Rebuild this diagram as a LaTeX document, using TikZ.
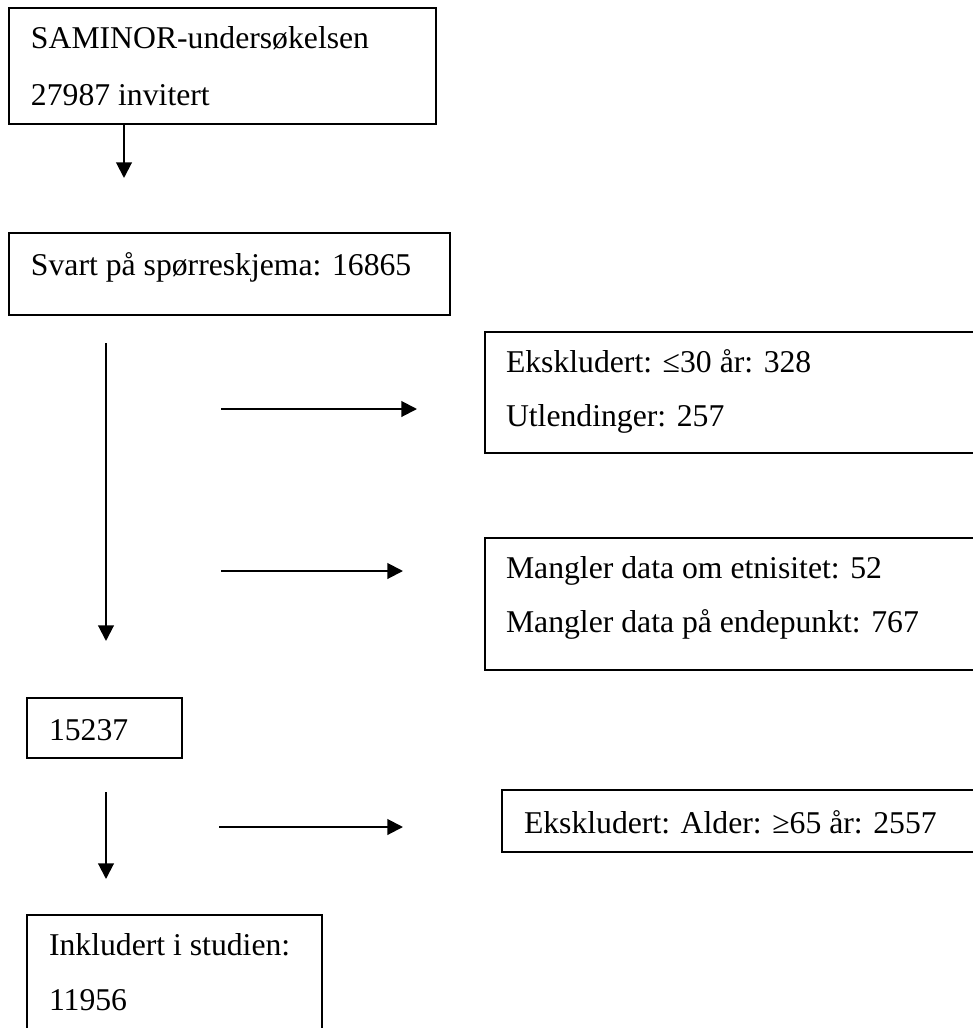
\documentclass[tikz,border=0pt]{standalone}
\usepackage{fontspec}
\setmainfont{Liberation Serif}
\usetikzlibrary{arrows.meta,fit}

\begin{document}
\begin{tikzpicture}[x=0.5pt, y=-0.5pt, line width=1pt, >={Triangle[length=7.8pt,width=7.8pt]},
    font=\fontsize{15.85}{19}\selectfont,
    boks/.style={draw, inner sep=0pt, fit={#1}},
    tekst/.style={anchor=base west, inner sep=0pt}]
                \useasboundingbox (0,0) rectangle (973,1028);
                \clip (0,0) rectangle (973,1028);
                % boxes
                \node[boks={(9,8) (436,124)}] (invitert) {};
                \node[boks={(9,233) (450,315)}] (svart) {};
                \node[boks={(485,332) (990,453)}] (eks1) {};
                \node[boks={(485,538) (990,670)}] (mangler) {};
                \node[boks={(27,698) (182,758)}] (rest) {};
                \node[boks={(502,790) (990,852)}] (eks2) {};
                \node[boks={(27,915) (322,1032)}] (inkl) {};
                % texts
                \node[tekst] (t1a) at (30,48) {SAMINOR-undersøkelsen};
                \node[tekst] (t1b) at (30,105) {27987 invitert};
                \node[tekst] (t2) at (30,275) {Svart på spørreskjema: 16865};
                \node[tekst] (t3a) at (505,372) {Ekskludert: ≤30 år: 328};
                \node[tekst] (t3b) at (505,426) {Utlendinger: 257};
                \node[tekst] (t4a) at (505,578) {Mangler data om etnisitet: 52};
                \node[tekst] (t4b) at (505,632) {Mangler data på endepunkt: 767};
                \node[tekst] (t5) at (48,740) {15237};
                \node[tekst] (t6) at (523,833) {Ekskludert: Alder: ≥65 år: 2557};
                \node[tekst] (t7a) at (48,955) {Inkludert i studien:};
                \node[tekst] (t7b) at (48,1010) {11956};
                % arrows
                \coordinate (p1) at (124,178);
                \coordinate (p2a) at (106,343);
                \coordinate (p2b) at (106,641);
                \coordinate (p3a) at (221,409);
                \coordinate (p3b) at (417,409);
                \coordinate (p4a) at (221,571);
                \coordinate (p4b) at (403,571);
                \coordinate (p5a) at (106,792);
                \coordinate (p5b) at (106,879);
                \coordinate (p6a) at (219,827);
                \coordinate (p6b) at (403,827);
                \draw[->] (invitert.south -| p1) -- (p1);
                \draw[->] (p2a) -- (p2b);
                \draw[->] (p3a) -- (p3b);
                \draw[->] (p4a) -- (p4b);
                \draw[->] (p5a) -- (p5b);
                \draw[->] (p6a) -- (p6b);
            \end{tikzpicture}
\end{document}
